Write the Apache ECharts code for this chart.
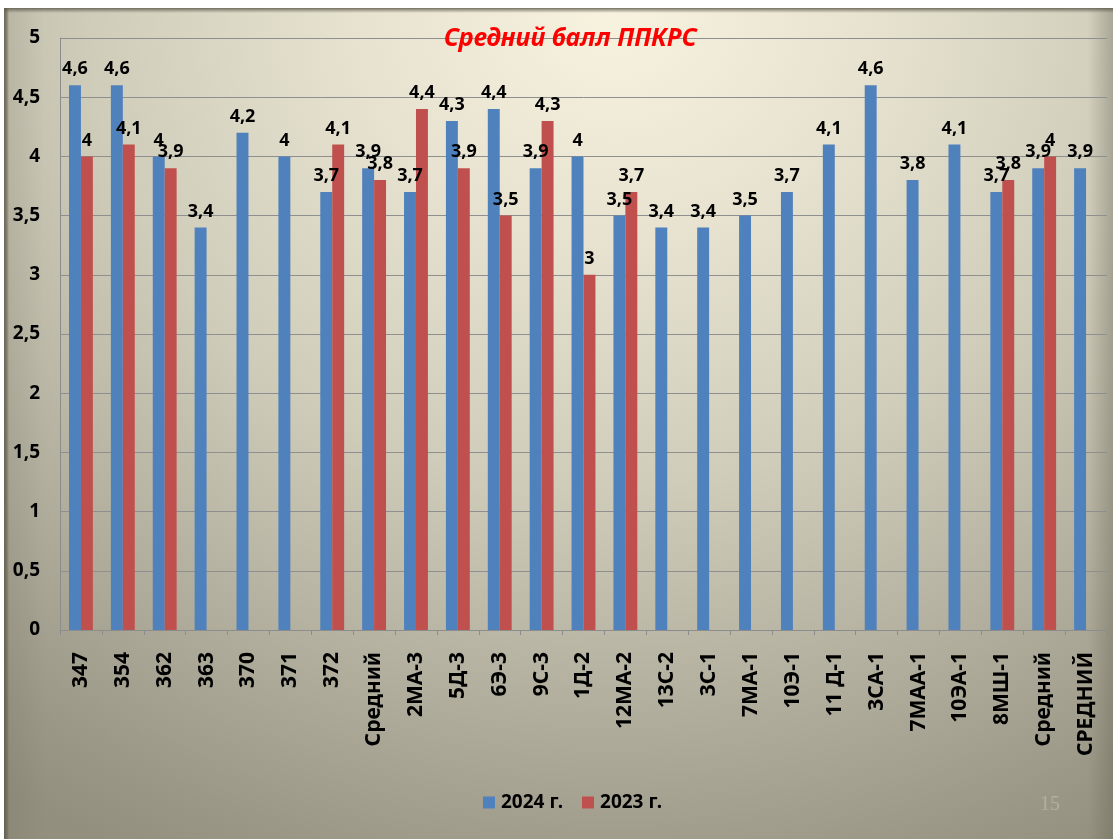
<!DOCTYPE html>
<html>
<head>
<meta charset="utf-8">
<script src="https://cdn.jsdelivr.net/npm/echarts@6/dist/echarts.min.js"></script>
<style>
  html, body { margin: 0; padding: 0; background: #ffffff; }
  #wrap { position: relative; width: 1113px; height: 839px; overflow: hidden; background: #ffffff; }
  #bg { position: absolute; left: 4px; top: 8px; width: 1109px; height: 831px;
        background:
          linear-gradient(to bottom, rgba(95,92,78,0.85) 0px, rgba(95,92,78,0.5) 2px, rgba(95,92,78,0) 5px),
          linear-gradient(to right, rgba(95,92,78,0.9) 0px, rgba(95,92,78,0.6) 3px, rgba(95,92,78,0.12) 5px, rgba(95,92,78,0) 40px),
          linear-gradient(to left, rgba(95,92,78,0.35) 0px, rgba(95,92,78,0) 25px),
          radial-gradient(ellipse 95% 115% at 55% 0%, #f7f3df 0%, #e6e2cf 25%, #cfccba 50%, #b3b09f 72%, #9a9786 92%, #938f7e 100%); }
  #chart { position: absolute; left: 0; top: 0; width: 1113px; height: 839px; }
</style>
</head>
<body>
<div id="wrap"><div id="bg"></div><div id="chart"></div></div>
<script>
const categories = ['347','354','362','363','370','371','372','Средний','2МА-3','5Д-3','6Э-3','9С-3','1Д-2','12МА-2','13С-2','3С-1','7МА-1','10Э-1','11 Д-1','3СА-1','7МАА-1','10ЭА-1','8МШ-1','Средний','СРЕДНИЙ'];
const values2024 = [4.6,4.6,4,3.4,4.2,4,3.7,3.9,3.7,4.3,4.4,3.9,4,3.5,3.4,3.4,3.5,3.7,4.1,4.6,3.8,4.1,3.7,3.9,3.9];
const values2023 = [4,4.1,3.9,null,null,null,4.1,3.8,4.4,3.9,3.5,4.3,3,3.7,null,null,null,null,null,null,null,null,3.8,4,null];
const seriesNames = ['2024 г.','2023 г.'];
const titleText = 'Средний балл ППКРС';

const FONT = '"Noto Sans", "Open Sans", sans-serif';
const fmt = v => String(v).replace('.', ',');

const chart = echarts.init(document.getElementById('chart'), null, {renderer: 'canvas'});
chart.setOption({
  backgroundColor: 'transparent',
  animation: false,
  title: {
    text: titleText, left: 565, top: 21, textAlign: 'center',
    textStyle: { color: '#ff0000', fontStyle: 'italic', fontWeight: 'bold', fontSize: 25, fontFamily: FONT }
  },
  legend: {
    top: 788, left: 478, itemWidth: 12, itemHeight: 12, itemGap: 19,
    icon: 'rect',
    textStyle: { fontWeight: 'bold', fontSize: 19, color: '#000', fontFamily: FONT, padding: [0, 0, 0, 1] }
  },
  grid: { left: 60, right: 6, top: 38, bottom: 209, containLabel: false },
  xAxis: {
    type: 'category', data: categories,
    axisLine: { lineStyle: { color: '#8c8c8c' } },
    axisTick: { show: true, length: 5, alignWithLabel: false, lineStyle: { color: '#8c8c8c' } },
    axisLabel: { rotate: 90, interval: 0, margin: 22, fontWeight: 'bold', fontSize: 21, color: '#000', fontFamily: FONT }
  },
  yAxis: {
    type: 'value', min: 0, max: 5, interval: 0.5,
    axisLine: { show: true, lineStyle: { color: '#8c8c8c' } },
    axisTick: { show: false },
    splitLine: { lineStyle: { color: '#8f8f8f', width: 1 } },
    axisLabel: { formatter: v => fmt(v), margin: 20, fontWeight: 'bold', fontSize: 19, color: '#000', fontFamily: FONT }
  },
  series: [
    { name: seriesNames[0], type: 'bar', data: values2024, barGap: '0%', barCategoryGap: '43%',
      itemStyle: { color: '#4f81bd' },
      label: { show: true, position: 'top', distance: 7, formatter: p => fmt(p.value), fontWeight: 'bold', fontSize: 18, color: '#000', fontFamily: FONT } },
    { name: seriesNames[1], type: 'bar', data: values2023, barGap: '0%', barCategoryGap: '43%',
      itemStyle: { color: '#c0504d' },
      label: { show: true, position: 'top', distance: 7, formatter: p => fmt(p.value), fontWeight: 'bold', fontSize: 18, color: '#000', fontFamily: FONT } }
  ],
  graphic: [
    { type: 'text', left: 1040, top: 795, style: { text: '15', fill: 'rgba(200,196,180,0.55)', fontSize: 20, fontFamily: '"Liberation Serif", serif' } }
  ]
});
</script>
</body>
</html>
